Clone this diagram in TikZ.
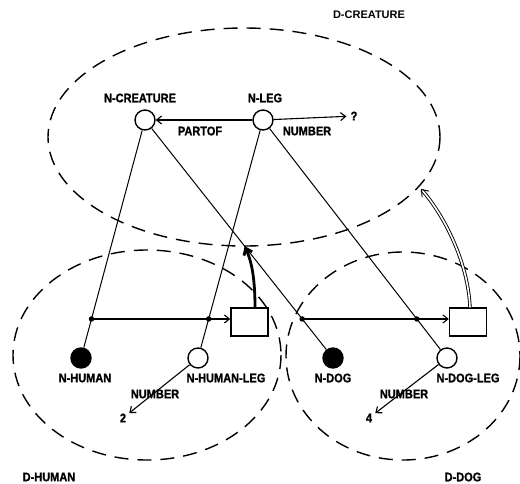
\documentclass[tikz,border=0pt]{standalone}
\usepackage{fontspec}
\setmainfont{Liberation Sans}
\newfontfamily\lblfont{Liberation Sans}[FakeStretch=0.88,FakeBold=1.2]
\usetikzlibrary{arrows.meta,calc}
\begin{document}
\begin{tikzpicture}[x=1pt,y=-1pt,
  lbl/.style={font=\lblfont\bfseries\fontsize{12.5}{13}\selectfont, inner sep=1pt},
  opennode/.style={circle, draw, line width=1.4pt, minimum size=20pt, inner sep=0pt, fill=white},
  fillnode/.style={opennode, fill=black},
  boxnode/.style={draw, line width=1.4pt, minimum width=37pt, minimum height=28pt, inner sep=0pt},
  dotnode/.style={circle, fill, minimum size=5.5pt, inner sep=0pt},
  link/.style={line width=1pt},
  arr/.style={line width=1.1pt, -{Straight Barb[length=5pt,width=8pt]}},
  space/.style={dash pattern=on 14pt off 9pt, line width=1.4pt}]
\useasboundingbox (0,0) rectangle (520,483);
\fill[white] (0,0) rectangle (520,483);

% partitions (spaces)
\draw[space] (244,137) ellipse [x radius=196, y radius=109];
\draw[space] (147,355) ellipse [x radius=134, y radius=105];
\draw[space] (403,356) ellipse [x radius=117, y radius=104];

% nodes
\node[opennode] (ncre) at (145,120) {};
\node[opennode] (nleg) at (263,120) {};
\node[fillnode] (nhum) at (81,358) {};
\node[opennode] (nhleg) at (198,358) {};
\node[fillnode] (ndog) at (333,358) {};
\node[opennode] (ndleg) at (447,358) {};
\node[boxnode] (hbox) at (249.5,322) {};
\node[boxnode] (dbox) at (468,322) {};

% links
\draw[link] (ncre) -- (nhum);
\draw[link] (ncre) -- (ndog);
\draw[link] (nleg) -- (nhleg);
\draw[link] (nleg) -- (ndleg);

\node[dotnode] (hd1) at ($(ncre)!0.836!(nhum)$) {};
\node[dotnode] (hd2) at ($(nleg)!0.836!(nhleg)$) {};
\node[dotnode] (dd1) at ($(ncre)!0.836!(ndog)$) {};
\node[dotnode] (dd2) at ($(nleg)!0.836!(ndleg)$) {};
\coordinate (tip1) at ($(ncre)!0.53!(ndog)$);
\coordinate (tip2) at (421,189);

\draw[arr] (hd1.center) -- (hd1.center -| hbox.west);
\draw[arr] (dd1.center) -- (dd1.center -| dbox.west);

% labels
\node[lbl] (lcre) at (140,98) {N-CREATURE};
\node[lbl] (lleg) at (265,98) {N-LEG};
\node[lbl] (lpart) at (200,131) {PARTOF};
\node[lbl] (lnum) at (307,131) {NUMBER};
\node[lbl, inner sep=4pt] (q) at (354,116) {?};
\node[lbl] (lhum) at (85,378) {N-HUMAN};
\node[lbl] (lhleg) at (226,378) {N-HUMAN-LEG};
\node[lbl] (ldog) at (333,378) {N-DOG};
\node[lbl] (ldleg) at (468,378) {N-DOG-LEG};
\node[lbl] (lnum2) at (155,394) {NUMBER};
\node[lbl] (lnum3) at (404,394) {NUMBER};
\node[lbl, inner sep=3pt] (two) at (123,418) {2};
\node[lbl, inner sep=3pt] (four) at (369,418) {4};
\node[lbl] (dhum) at (49,477) {D-HUMAN};
\node[lbl] (ddog) at (463,477) {D-DOG};
\node[font=\bfseries\fontsize{11}{12}\selectfont, inner sep=0pt] (dcre) at (369,15) {D-CREATURE};

% arrows
\draw[arr] (nleg) -- (ncre);
\draw[arr] (nleg) -- (q);
\draw[arr] (nhleg) -- (two);
\draw[arr] (ndleg) -- (four);

\draw[line width=2.8pt, -{Straight Barb[length=6pt,width=9pt]}] ([xshift=5.5pt]hbox.north) .. controls (255,276) and (251,260) .. (tip1);
\draw[line width=0.9pt, double, double distance=1.6pt, -{Straight Barb[length=6pt,width=9pt]}] ([xshift=2pt]dbox.north) .. controls (468,262) and (444,215) .. (tip2);
\end{tikzpicture}
\end{document}
